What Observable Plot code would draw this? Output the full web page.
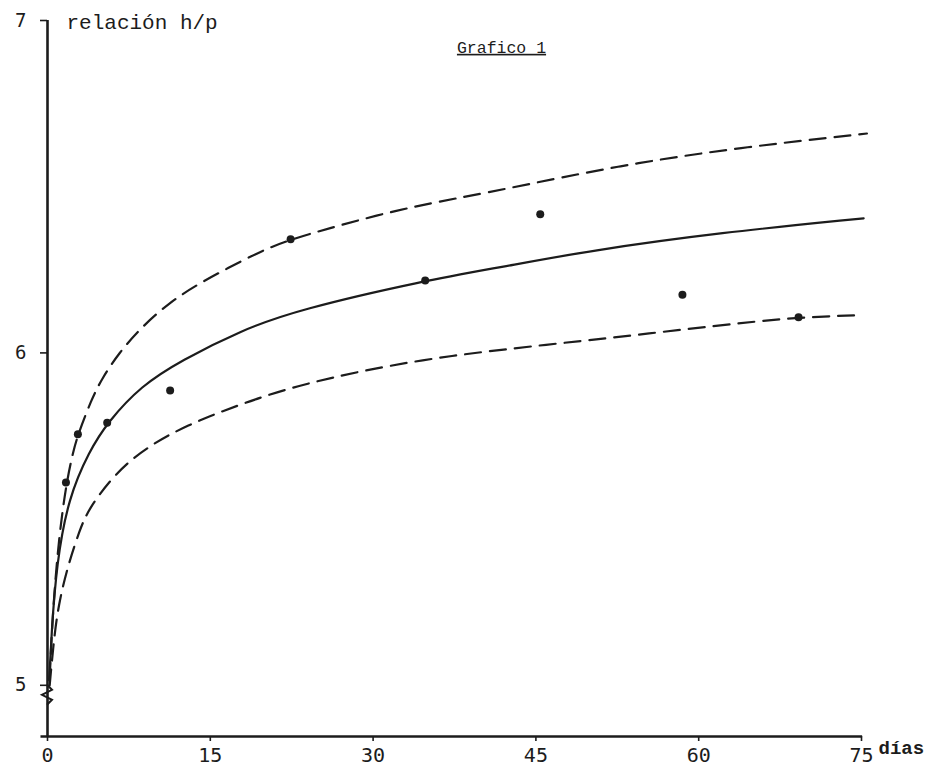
<!DOCTYPE html>
<html>
<head>
<meta charset="utf-8">
<script src="https://cdn.jsdelivr.net/npm/d3@7"></script>
<script src="https://cdn.jsdelivr.net/npm/@observablehq/plot@0.6"></script>
<style>
  html, body { margin: 0; padding: 0; background: #fff; }
  #chart { width: 947px; height: 769px; }
</style>
</head>
<body>
<div id="chart"></div>
<script>
// Observed points
const pointDays  = [1.7, 2.8, 5.5, 11.3, 22.4, 34.8, 45.4, 58.5, 69.2];
const pointRatio = [5.61, 5.755, 5.79, 5.887, 6.342, 6.218, 6.417, 6.175, 6.107];

// Fitted curve (solid)
const fitDays  = [0.15, 0.37, 0.83, 1.93, 3.86, 5.5, 8.65, 12.3, 17.85, 23.1, 34.8, 41.8, 50, 62, 75.2];
const fitRatio = [5.015, 5.156, 5.365, 5.565, 5.705, 5.79, 5.902, 5.977, 6.068, 6.13, 6.218, 6.258, 6.308, 6.362, 6.405];

// Upper limit (dashed)
const upperDays  = [0.2, 0.37, 0.64, 1.10, 1.75, 2.39, 2.82, 4.05, 4.97, 6.53, 8.65, 11.13, 13.9, 19.7, 22.4, 25.85, 31.0, 35.97, 41.8, 52.8, 63.8, 75.5];
const upperRatio = [5.02, 5.144, 5.286, 5.457, 5.611, 5.707, 5.755, 5.86, 5.92, 5.998, 6.077, 6.149, 6.209, 6.308, 6.341, 6.374, 6.42, 6.455, 6.49, 6.565, 6.618, 6.66];

// Lower limit (dashed)
const lowerDays  = [0.2, 0.64, 1.10, 1.93, 2.94, 3.77, 5.89, 7.73, 9.57, 11.1, 13.0, 14.8, 17.6, 23.4, 34.4, 46.4, 55.6, 63.8, 69.3, 74.4];
const lowerRatio = [5.0, 5.156, 5.256, 5.365, 5.465, 5.53, 5.622, 5.68, 5.722, 5.752, 5.782, 5.808, 5.843, 5.908, 5.983, 6.026, 6.059, 6.09, 6.107, 6.113];

// Axis ticks and labels
const xTicks = [0, 15, 30, 45, 60, 75];
const yTicks = [5, 6, 7];
const yBottom = 4.846;   // where the (broken) y axis meets the x axis
const titleText = "Grafico 1";
const yLabel = "relación h/p";
const xLabel = "días";

const zip = (xs, ys) => xs.map((x, i) => ({x, y: ys[i]}));
const points = zip(pointDays, pointRatio);
const fit = zip(fitDays, fitRatio);
const upper = zip(upperDays, upperRatio);
const lower = zip(lowerDays, lowerRatio);

const ink = "#1c1c1c";

const chart = Plot.plot({
  width: 947,
  height: 769,
  marginLeft: 47,
  marginRight: 86,
  marginTop: 20,
  marginBottom: 33,
  x: {domain: [0, 75]},
  y: {domain: [yBottom, 7]},
  style: {fontFamily: "'DejaVu Sans Mono', monospace", fontSize: "18px", color: ink, background: "#fff", overflow: "visible"},
  marks: [
    Plot.ruleX([0], {y1: yBottom, y2: 7, stroke: ink, strokeWidth: 2.6}),
    Plot.ruleY([yBottom], {x1: -0.6, x2: 75.1, stroke: ink, strokeWidth: 2.4}),
    Plot.axisY({ticks: yTicks, tickFormat: "d", tickSize: 7, tickPadding: 14, label: null, fontSize: 19, strokeWidth: 1.6}),
    Plot.axisX({ticks: xTicks, tickFormat: "d", tickSize: 5, tickPadding: 6, label: null, fontSize: 20, strokeWidth: 1.6}),
    Plot.line(upper, {x: "x", y: "y", curve: "basis", stroke: ink, strokeWidth: 2.2, strokeDasharray: "16,9"}),
    Plot.line(lower, {x: "x", y: "y", curve: "basis", stroke: ink, strokeWidth: 2.2, strokeDasharray: "16,9"}),
    Plot.line(fit, {x: "x", y: "y", curve: "basis", stroke: ink, strokeWidth: 2.2}),
    Plot.dot(points, {x: "x", y: "y", r: 4, fill: ink, stroke: "none"}),
    Plot.text([yLabel], {frameAnchor: "top-left", dx: 19, dy: 2, textAnchor: "start", lineAnchor: "middle",
      fontFamily: "'Liberation Mono', monospace", fontSize: 21, fill: ink}),
    Plot.text([titleText], {frameAnchor: "top", dx: 47, dy: 27, lineAnchor: "middle",
      fontFamily: "'Liberation Mono', monospace", fontSize: 16.5, fill: ink, className: "title-text"}),
    Plot.text([xLabel], {frameAnchor: "bottom-right", dx: 17, dy: 11, textAnchor: "start", lineAnchor: "middle",
      fontFamily: "'Liberation Mono', monospace", fontWeight: "bold", fontSize: 19, fill: ink})
  ]
});

document.getElementById("chart").appendChild(chart);

// underline the title
d3.select(chart).selectAll(".title-text text").style("text-decoration", "underline");

// axis break mark on the y axis, positioned through the plot's scales
const xs = chart.scale("x"), ys = chart.scale("y");
const x0 = xs.apply(0);
const yb = ys.apply(4.97);
const step = 5;
d3.select(chart).append("path")
  .attr("d", `M${x0},${yb - 2 * step} L${x0 + 5},${yb - step} L${x0 - 5},${yb} L${x0 + 5},${yb + step} L${x0},${yb + 2 * step}`)
  .attr("fill", "none")
  .attr("stroke", ink)
  .attr("stroke-width", 2);
</script>
</body>
</html>
